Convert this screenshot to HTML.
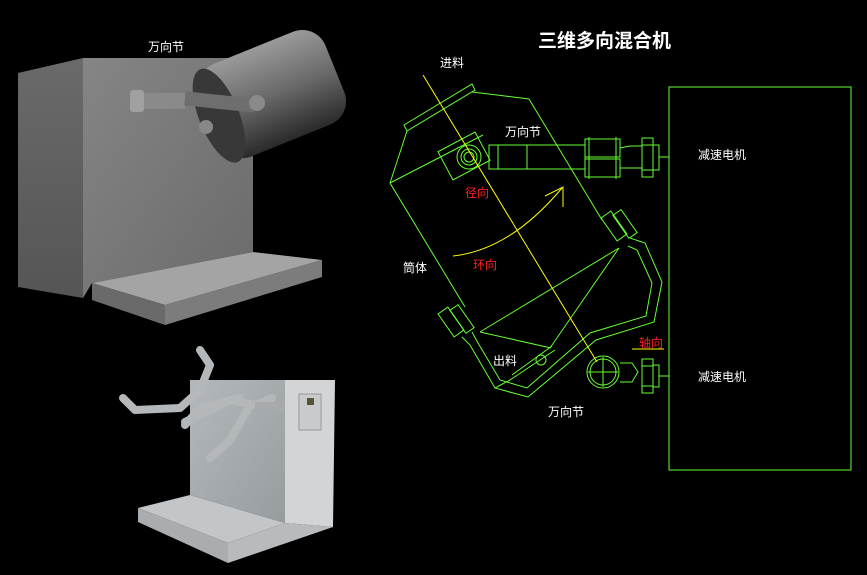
<!DOCTYPE html>
<html><head><meta charset="utf-8"><style>
html,body{margin:0;padding:0;background:#000;}
svg{display:block}
text{font-family:"Liberation Sans","Noto Sans CJK SC",sans-serif;font-size:12px;fill:#fff}
</style></head><body>
<svg width="867" height="575" viewBox="0 0 867 575" xmlns="http://www.w3.org/2000/svg">
<defs>
<linearGradient id="gl" x1="0" y1="0" x2="0" y2="1"><stop offset="0" stop-color="#6a6a6a"/><stop offset="1" stop-color="#555"/></linearGradient>
<linearGradient id="gf" x1="0" y1="0" x2="1" y2="1"><stop offset="0" stop-color="#858585"/><stop offset="1" stop-color="#6a6a6a"/></linearGradient>
<linearGradient id="gc" x1="0" y1="0" x2="0" y2="1"><stop offset="0" stop-color="#9a9a9a"/><stop offset="0.5" stop-color="#6a6a6a"/><stop offset="1" stop-color="#2a2a2a"/></linearGradient>
<linearGradient id="gs" x1="0" y1="0" x2="1" y2="1"><stop offset="0" stop-color="#b4b8bb"/><stop offset="1" stop-color="#979c9f"/></linearGradient>
</defs>

<!-- top-left 3D machine -->
<polygon points="18,73 83,58 83,298 18,287" fill="url(#gl)"/>
<polygon points="83,58 253,58 253,252 92,283 83,298" fill="url(#gf)"/>
<polygon points="92,283 253,252 322,260 165,305" fill="#a4a4a4"/>
<polygon points="92,283 165,305 165,325 92,300" fill="#6a6a6a"/>
<polygon points="165,305 322,260 322,277 165,325" fill="#7c7c7c"/>
<g transform="rotate(-22 270 95)">
<rect x="205" y="45" width="135" height="100" rx="25" fill="url(#gc)"/>
<ellipse cx="215" cy="95" rx="20" ry="50" fill="#383838"/>
</g>
<rect x="135" y="93" width="50" height="16" fill="#8a8a8a"/>
<rect x="130" y="90" width="14" height="22" rx="3" fill="#a0a0a0"/>
<rect x="185" y="95" width="70" height="14" fill="#6e6e6e" transform="rotate(6 220 100)"/>
<circle cx="257" cy="103" r="8" fill="#8a8a8a"/>
<circle cx="206" cy="127" r="7" fill="#888"/>
<text x="148" y="51" font-size="11">万向节</text>

<!-- bottom-left silver machine -->
<polygon points="190,380 285,380 285,523 190,495" fill="url(#gs)"/>
<polygon points="285,380 335,380 333,527 285,523" fill="#d2d4d6"/>
<polygon points="138,508 190,495 285,523 228,543" fill="#c3c6c8"/>
<polygon points="138,508 228,543 228,563 138,522" fill="#a9adaf"/>
<polygon points="228,543 285,523 333,527 228,563" fill="#b8bbbd"/>
<rect x="299" y="394" width="22" height="36" fill="#c8cacb" stroke="#999"/>
<rect x="307" y="398" width="7" height="7" fill="#553"/>
<g stroke="#b4b8ba" stroke-width="8" fill="none" stroke-linecap="round" stroke-linejoin="round">
<polyline points="123,398 135,410 180,408 200,390 210,365 200,350"/>
<polyline points="185,422 230,400 255,405 272,398"/>
<polyline points="210,458 230,440 250,405"/>
<polyline points="185,425 200,408 240,398"/>
</g>
<rect x="255" y="402" width="30" height="10" fill="#a6aaac"/>

<!-- right diagram -->
<text x="538" y="47" style="font-size:19px;font-weight:bold">三维多向混合机</text>
<rect x="669" y="87" width="182" height="383" fill="none" stroke="#66ff33" stroke-width="1"/>
<g stroke="#66ff33" stroke-width="1" fill="none">
<polygon points="404,125 472,84 475,90 407,131"/>
<polyline points="472,92 529,99 602,220"/>
<polyline points="407,131 390,183 465,307"/>
<line x1="390" y1="183" x2="483" y2="135"/>
<polyline points="480,332 619,248 550,348"/>
<line x1="480" y1="332" x2="551" y2="348"/>
<rect x="443" y="140" width="42" height="32" transform="rotate(-28 464 156)"/>
<circle cx="469" cy="157" r="12"/><circle cx="469" cy="157" r="8"/><circle cx="469" cy="157" r="5"/>
<rect x="489" y="145" width="96" height="24"/>
<line x1="498" y1="145" x2="498" y2="169"/><line x1="527" y1="145" x2="527" y2="169"/>
<rect x="585" y="139" width="35" height="18"/><rect x="585" y="159" width="35" height="18"/>
<line x1="589" y1="137" x2="589" y2="179"/><line x1="616" y1="137" x2="616" y2="179"/>
<polyline points="620,148 630,146 642,146"/><polyline points="620,168 630,168 642,168"/>
<rect x="642" y="138" width="11" height="39"/><line x1="642" y1="145" x2="653" y2="145"/><line x1="642" y1="170" x2="653" y2="170"/>
<rect x="653" y="145" width="6" height="25"/><line x1="659" y1="157" x2="669" y2="157"/>
<rect x="608" y="212" width="12" height="28" transform="rotate(-35 614 226)"/>
<rect x="620" y="210" width="10" height="28" transform="rotate(-35 625 224)"/>
<rect x="445" y="308" width="12" height="28" transform="rotate(-35 451 322)"/>
<rect x="457" y="305" width="10" height="28" transform="rotate(-35 462 319)"/>
<polyline points="462,337 470,345 495,388 528,397 596,340 654,322 662,282 645,243 630,238"/>
<polyline points="472,332 478,343 500,380 527,388 590,333 646,316 652,283 637,250 628,246"/>
<line x1="495" y1="388" x2="510" y2="380"/>
<line x1="510" y1="380" x2="555" y2="350" /><line x1="512" y1="375" x2="552" y2="346"/>
<circle cx="541" cy="360" r="5"/>
<circle cx="603" cy="372" r="16"/><circle cx="603" cy="372" r="13"/>
<line x1="588" y1="372" x2="618" y2="372"/><line x1="603" y1="357" x2="603" y2="387"/>
<polyline points="620,363 632,363 638,372 632,382 620,382"/>
<rect x="642" y="359" width="11" height="34"/><line x1="642" y1="366" x2="653" y2="366"/><line x1="642" y1="386" x2="653" y2="386"/>
<rect x="653" y="365" width="6" height="22"/><line x1="659" y1="376" x2="669" y2="376"/>
</g>
<line x1="423" y1="75" x2="597" y2="362" stroke="#ffff00" stroke-width="1"/>
<path d="M453,256 Q510,250 562,188" stroke="#ffff00" stroke-width="1" fill="none"/>
<polyline points="545,196 563,187 563,207" stroke="#ffff00" stroke-width="1" fill="none"/>
<line x1="632" y1="349" x2="664" y2="349" stroke="#ffff00" stroke-width="1"/>
<text x="440" y="67">进料</text>
<text x="505" y="136">万向节</text>
<text x="465" y="197" style="fill:#ff2020">径向</text>
<text x="403" y="272">筒体</text>
<text x="473" y="269" style="fill:#ff2020">环向</text>
<text x="493" y="365">出料</text>
<text x="639" y="347" style="fill:#ff2020">轴向</text>
<text x="548" y="416">万向节</text>
<text x="698" y="159">减速电机</text>
<text x="698" y="381">减速电机</text>
</svg>
</body></html>
